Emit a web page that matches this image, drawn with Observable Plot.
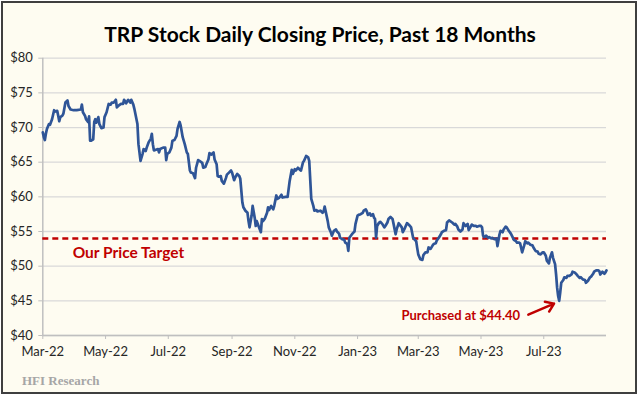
<!DOCTYPE html>
<html>
<head>
<meta charset="utf-8">
<script src="https://cdn.jsdelivr.net/npm/d3@7"></script>
<script src="https://cdn.jsdelivr.net/npm/@observablehq/plot@0.6"></script>
<style>
  html, body { margin: 0; padding: 0; background: #ffffff; }
  #frame { position: absolute; left: 1px; top: 1px; width: 636px; height: 393px; box-sizing: border-box; border: 2px solid #3f3f3f; background: #FEFCF1; }
  #title { position: absolute; left: 0; top: 21px; width: 640px; text-align: center; font: bold 21px Lato, sans-serif; line-height: 26px; color: #000; }
  #chart { position: absolute; left: 0; top: 50px; }
  #footer { position: absolute; left: 22px; top: 373px; font: bold 13px "Liberation Serif", serif; line-height: 16px; color: #A6A6A6; }
</style>
</head>
<body>
<div id="frame"></div>
<div id="title">TRP Stock Daily Closing Price, Past 18 Months</div>
<div id="chart"></div>
<div id="footer">HFI Research</div>
<script>
const dates = [
"2022-03-01","2022-03-02","2022-03-03","2022-03-04","2022-03-05","2022-03-07","2022-03-08","2022-03-10","2022-03-12","2022-03-13","2022-03-15","2022-03-16","2022-03-17","2022-03-18","2022-03-20","2022-03-21","2022-03-23","2022-03-25","2022-03-26","2022-03-28","2022-03-31",
"2022-04-03","2022-04-07","2022-04-08","2022-04-09","2022-04-11","2022-04-12","2022-04-14","2022-04-15","2022-04-16","2022-04-17","2022-04-19","2022-04-20","2022-04-21","2022-04-22","2022-04-24","2022-04-25","2022-04-27","2022-04-29","2022-04-30",
"2022-05-02","2022-05-04","2022-05-06","2022-05-07","2022-05-09","2022-05-11","2022-05-12","2022-05-14","2022-05-16","2022-05-18","2022-05-19","2022-05-21","2022-05-23","2022-05-25","2022-05-26","2022-05-28","2022-05-29",
"2022-06-01","2022-06-02","2022-06-04","2022-06-06","2022-06-07","2022-06-09","2022-06-10","2022-06-12","2022-06-14","2022-06-15","2022-06-16","2022-06-17","2022-06-19","2022-06-21","2022-06-22","2022-06-23","2022-06-26","2022-06-28","2022-06-29","2022-06-30",
"2022-07-02","2022-07-04","2022-07-05","2022-07-07","2022-07-09","2022-07-10","2022-07-12","2022-07-13","2022-07-15","2022-07-17","2022-07-19","2022-07-20","2022-07-22","2022-07-23","2022-07-25","2022-07-27","2022-07-28","2022-07-30",
"2022-08-01","2022-08-03","2022-08-04","2022-08-06","2022-08-07","2022-08-09","2022-08-10","2022-08-12","2022-08-14","2022-08-15","2022-08-17","2022-08-18","2022-08-19","2022-08-21","2022-08-22","2022-08-24","2022-08-26","2022-08-27","2022-08-29","2022-08-31",
"2022-09-01","2022-09-03","2022-09-04","2022-09-06","2022-09-08","2022-09-09","2022-09-11","2022-09-12","2022-09-14","2022-09-16","2022-09-17","2022-09-18","2022-09-20","2022-09-21","2022-09-23","2022-09-24","2022-09-25","2022-09-27","2022-09-29","2022-09-30",
"2022-10-01","2022-10-03","2022-10-05","2022-10-06","2022-10-07","2022-10-09","2022-10-11","2022-10-12","2022-10-14","2022-10-15","2022-10-17","2022-10-19","2022-10-20","2022-10-23","2022-10-25","2022-10-27","2022-10-29","2022-10-30",
"2022-11-01","2022-11-02","2022-11-04","2022-11-06","2022-11-07","2022-11-09","2022-11-10","2022-11-12","2022-11-14","2022-11-15","2022-11-17","2022-11-19","2022-11-20","2022-11-22","2022-11-23","2022-11-26","2022-11-28","2022-11-29","2022-11-30",
"2022-12-03","2022-12-04","2022-12-06","2022-12-07","2022-12-09","2022-12-11","2022-12-12","2022-12-14","2022-12-15","2022-12-17","2022-12-19","2022-12-20","2022-12-22","2022-12-23","2022-12-24","2022-12-26","2022-12-27","2022-12-29","2022-12-30",
"2023-01-01","2023-01-02","2023-01-04","2023-01-06","2023-01-07","2023-01-09","2023-01-10","2023-01-11","2023-01-13","2023-01-14","2023-01-16","2023-01-17","2023-01-18","2023-01-19","2023-01-20","2023-01-22","2023-01-23","2023-01-25","2023-01-27","2023-01-28","2023-01-30","2023-01-31",
"2023-02-02","2023-02-04","2023-02-05","2023-02-07","2023-02-08","2023-02-10","2023-02-11","2023-02-13","2023-02-14","2023-02-16","2023-02-18","2023-02-19","2023-02-21","2023-02-22","2023-02-24","2023-02-25","2023-02-27","2023-02-28",
"2023-03-01","2023-03-03","2023-03-05","2023-03-06","2023-03-08","2023-03-10","2023-03-11","2023-03-13","2023-03-15","2023-03-16","2023-03-18","2023-03-19","2023-03-21","2023-03-23","2023-03-24","2023-03-26","2023-03-28","2023-03-29","2023-03-31",
"2023-04-01","2023-04-03","2023-04-05","2023-04-06","2023-04-08","2023-04-09","2023-04-11","2023-04-13","2023-04-14","2023-04-16","2023-04-18","2023-04-19","2023-04-21","2023-04-22","2023-04-24","2023-04-26","2023-04-27","2023-04-29",
"2023-05-01","2023-05-02","2023-05-03","2023-05-04","2023-05-06","2023-05-08","2023-05-09","2023-05-11","2023-05-12","2023-05-14","2023-05-16","2023-05-17","2023-05-19","2023-05-20","2023-05-22","2023-05-23","2023-05-25","2023-05-26","2023-05-28","2023-05-30","2023-05-31",
"2023-06-02","2023-06-04","2023-06-05","2023-06-07","2023-06-08","2023-06-10","2023-06-12","2023-06-13","2023-06-15","2023-06-16","2023-06-18","2023-06-20","2023-06-21","2023-06-23","2023-06-25","2023-06-26","2023-06-28","2023-06-30",
"2023-07-01","2023-07-03","2023-07-04","2023-07-06","2023-07-07","2023-07-09","2023-07-10","2023-07-12","2023-07-13","2023-07-14","2023-07-15","2023-07-16","2023-07-17","2023-07-18","2023-07-20","2023-07-21","2023-07-23","2023-07-24","2023-07-26","2023-07-28","2023-07-29","2023-07-31",
"2023-08-02","2023-08-03","2023-08-05","2023-08-06","2023-08-08","2023-08-10","2023-08-11","2023-08-13","2023-08-15","2023-08-16","2023-08-18","2023-08-19","2023-08-21","2023-08-23","2023-08-24","2023-08-25","2023-08-27","2023-08-29","2023-08-30","2023-08-31"
];
const closes = [
69.3,68.6,68.2,69.1,69.8,70.5,70.4,71.2,72.5,72.3,72.4,71.7,70.9,71.5,71.7,72.0,73.6,73.9,73.1,72.6,72.5,
72.5,72.6,73.3,72.2,71.7,71.2,70.8,71.6,68.1,68.1,68.3,70.8,71.2,70.7,71.5,70.5,69.9,70.0,71.5,
72.2,73.4,73.3,73.6,73.6,74.0,72.9,73.2,73.4,73.4,74.0,73.5,74.0,73.6,74.0,73.3,72.7,
70.5,67.6,65.2,66.2,66.9,66.6,67.1,67.9,68.4,69.1,67.6,66.7,66.8,66.9,66.4,66.9,67.1,67.1,65.3,66.2,
66.4,67.1,68.1,68.2,68.8,69.8,70.8,70.3,68.6,67.6,66.4,66.2,63.8,63.5,63.4,62.7,64.2,65.3,
65.1,64.9,64.2,64.3,64.7,65.4,66.3,66.1,66.4,65.4,64.7,63.0,62.9,63.0,62.3,61.9,62.7,63.2,63.5,63.8,
63.5,62.4,62.8,63.3,63.0,62.6,59.2,58.5,58.0,57.7,56.5,55.6,57.3,58.7,57.0,55.8,56.5,55.7,54.9,56.8,
56.5,56.9,57.7,58.5,58.1,58.7,58.2,58.7,60.2,59.7,59.9,60.3,59.9,60.0,60.0,62.3,63.9,63.3,
64.0,63.8,64.2,63.9,63.8,65.0,65.2,65.9,65.7,65.2,59.7,58.7,58.0,58.1,57.9,58.0,57.7,57.9,58.6,
56.5,55.6,54.9,54.4,55.1,55.3,55.0,54.7,54.1,53.9,53.8,53.4,53.2,52.2,54.1,54.5,54.7,55.0,56.1,
57.3,57.4,57.5,57.7,58.0,58.2,57.9,57.4,57.6,57.3,57.5,57.0,56.8,54.1,55.8,56.3,56.4,56.1,55.6,55.8,56.3,56.8,
57.1,56.8,56.1,54.6,55.3,56.2,56.0,55.6,54.9,55.5,56.2,56.1,55.8,55.6,54.1,53.9,53.6,52.6,
51.7,51.0,50.9,51.6,52.0,52.0,52.7,52.5,53.0,53.2,53.3,53.7,54.1,54.6,54.9,55.1,55.2,56.3,56.6,
56.5,56.3,56.0,56.1,55.7,55.3,55.0,55.3,56.2,55.8,56.1,55.2,55.7,56.0,55.8,55.8,55.7,55.8,
55.8,55.6,54.4,54.2,54.4,54.1,54.2,54.0,54.1,53.9,54.0,52.9,54.6,55.1,54.9,55.3,55.7,55.6,55.1,54.7,54.4,
53.8,53.6,53.4,53.4,53.3,52.0,53.0,53.6,53.3,53.4,53.1,53.0,52.7,52.2,52.1,51.8,51.7,52.0,
52.0,51.5,50.8,50.4,51.2,52.0,51.2,50.3,48.8,46.9,45.7,45.0,46.2,47.6,48.0,48.4,48.3,48.6,48.6,48.8,49.2,49.1,
48.8,48.6,48.3,48.4,48.1,48.0,47.6,47.9,48.4,48.5,48.9,49.2,49.4,49.4,49.3,48.8,49.2,48.9,49.1,49.4
];
const yTicks = [40, 45, 50, 55, 60, 65, 70, 75, 80];
const xTicks = ["2022-03-01","2022-05-01","2022-07-01","2022-09-01","2022-11-01","2023-01-01","2023-03-01","2023-05-01","2023-07-01"];
const xDomain = ["2022-03-01","2023-08-31"];
const targetPrice = 54;
const labelTexts = ["Our Price Target", "Purchased at $44.40"];
const labelDates = ["2022-03-30", "2023-06-08"];
const labelValues = [51.9, 42.8];
const labelAnchors = ["start", "end"];
const labelSizes = [15.5, 13];
const arrowFrom = ["2023-06-16", 43.0];
const arrowTo = ["2023-07-11", 44.6];

const parse = d3.utcParse("%Y-%m-%d");
const data = dates.map((d, i) => ({date: parse(d), close: closes[i]}));
const labels = labelTexts.map((t, i) => ({text: t, date: parse(labelDates[i]), value: labelValues[i], anchor: labelAnchors[i], size: labelSizes[i]}));
const arrows = [{x1: parse(arrowFrom[0]), y1: arrowFrom[1], x2: parse(arrowTo[0]), y2: arrowTo[1]}];
const red = "#C00000";

const chart = Plot.plot({
  width: 640,
  height: 322,
  marginTop: 7.7,
  marginBottom: 37,
  marginLeft: 42.3,
  marginRight: 34,
  style: {background: "transparent", fontFamily: "Lato, sans-serif", overflow: "visible"},
  x: {type: "utc", domain: xDomain.map(parse)},
  y: {domain: [40, 80]},
  marks: [
    Plot.gridY(yTicks, {stroke: "#D9D9D9", strokeOpacity: 1, strokeWidth: 1.3}),
    Plot.ruleY([40], {stroke: "#BFBFBF", strokeWidth: 1.5}),
    Plot.ruleX([parse(xDomain[0])], {stroke: "#BFBFBF", strokeWidth: 1.5}),
    Plot.axisY({ticks: yTicks, tickFormat: d => "$" + d, tickSize: 4, tickPadding: 6, stroke: "#BFBFBF", strokeOpacity: 1, fill: "#262626", fontSize: 13, label: null}),
    Plot.axisX({ticks: xTicks.map(parse), tickFormat: d3.utcFormat("%b-%y"), tickSize: 4, tickPadding: 7, stroke: "#BFBFBF", strokeOpacity: 1, fill: "#262626", fontSize: 13, label: null}),
    Plot.ruleY([targetPrice], {stroke: red, strokeWidth: 2.5, strokeDasharray: "6,4"}),
    Plot.lineY(data, {x: "date", y: "close", stroke: "#2F5597", strokeWidth: 2.7}),
    Plot.text(labels.filter(d => d.anchor === "start"), {x: "date", y: "value", text: "text", textAnchor: "start", fill: red, fontWeight: "bold", fontSize: labelSizes[0]}),
    Plot.text(labels.filter(d => d.anchor === "end"), {x: "date", y: "value", text: "text", textAnchor: "end", fill: red, fontWeight: "bold", fontSize: labelSizes[1]}),
    Plot.arrow(arrows, {x1: "x1", y1: "y1", x2: "x2", y2: "y2", stroke: red, strokeWidth: 2.5, headLength: 7, headAngle: 70})
  ]
});
document.getElementById("chart").appendChild(chart);
</script>
</body>
</html>
